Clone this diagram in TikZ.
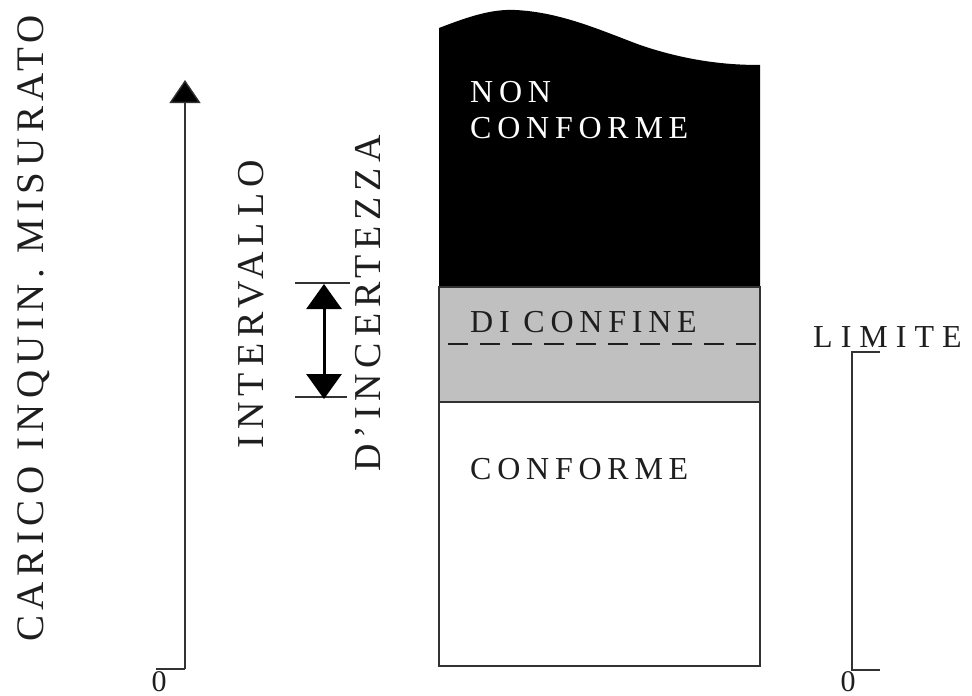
\documentclass[tikz,border=0pt]{standalone}
\usepackage{fontspec}
\setmainfont{Liberation Serif}
\usetikzlibrary{arrows.meta}
\definecolor{boxgray}{RGB}{192,192,192}
\definecolor{ink}{RGB}{30,30,30}
\definecolor{edge}{RGB}{50,50,50}
\newcommand\hfnt{\fontsize{32}{37}\selectfont\addfontfeatures{LetterSpace=18}}
\newcommand\vfnt{\fontsize{39}{44}\selectfont\addfontfeatures{LetterSpace=14.5}}
\newcommand\wfnt{\fontsize{38}{44}\selectfont\addfontfeatures{LetterSpace=16.5}}
\newcommand\dfnt{\fontsize{38}{44}\selectfont\addfontfeatures{LetterSpace=15.5}}
\tikzset{
  lbl/.style={inner sep=0pt, anchor=base west, text=ink},
  vlbl/.style={lbl, rotate=90},
  axisline/.style={line width=1.4pt, draw=edge},
  boxedge/.style={line width=1.4pt, draw=edge},
  zero/.style={inner sep=0pt, anchor=north, text=ink, font=\fontsize{30}{34}\selectfont},
}
\begin{document}
\begin{tikzpicture}[x=1pt,y=-1pt]
\useasboundingbox (0,0) rectangle (972,696);
% ---- main box ----
\fill[black] (439,28) .. controls (470,16) and (492,9) .. (515,10)
  .. controls (560,12) and (600,30) .. (640,45)
  .. controls (690,62) and (730,65) .. (760,65) -- (760,287) -- (439,287) -- cycle;
\draw[boxedge, fill=boxgray] (439,287) rectangle (760,402);
\draw[boxedge, fill=white] (439,402) rectangle (760,666);
\coordinate (dashL) at (448,344);
\coordinate (dashR) at (760,344);
\draw[line width=1.8pt, draw=ink, dash pattern=on 20pt off 12pt] (dashL) -- (dashR);
\node[lbl, text=white] (non) at (470,102) {\hfnt NON};
\node[lbl, text=white] (nonconf) at (470,138) {\hfnt CONFORME};
\node[lbl] (confine) at (470,332) {\hfnt DI CONFINE};
\node[lbl] (conf) at (470,479) {\hfnt CONFORME};
% ---- left axis ----
\coordinate (ax0) at (185,669);
\coordinate (axtop) at (185,80);
\coordinate (axtick) at (156,669);
\draw[axisline, -{Triangle[width=31pt,length=23pt,fill=black]}] (ax0) -- (axtop);
\draw[axisline] (axtick) -- (ax0);
\node[zero] (zeroL) at (159,671) {0};
\node[vlbl] (carico) at (43,642) {\vfnt CARICO INQUIN. MISURATO};
% ---- uncertainty interval ----
\coordinate (uTopL) at (295,283);
\coordinate (uTopR) at (350,283);
\coordinate (uBotL) at (295,397);
\coordinate (uBotR) at (347,397);
\draw[axisline] (uTopL) -- (uTopR);
\draw[axisline] (uBotL) -- (uBotR);
\coordinate (uA) at (324,284);
\coordinate (uB) at (324,399);
\draw[line width=3pt, draw=black, {Triangle[width=35pt,length=25pt]}-{Triangle[width=35pt,length=25pt]}] (uA) -- (uB);
\node[vlbl] (interv) at (263,449) {\wfnt INTERVALLO};
\node[vlbl] (incert) at (380,472) {\dfnt D’INCERTEZZA};
% ---- right axis ----
\coordinate (r0) at (852,670);
\coordinate (rtop) at (852,352);
\coordinate (rtick0) at (880,670);
\coordinate (rticktop) at (880,352);
\draw[axisline] (rtick0) -- (r0) -- (rtop) -- (rticktop);
\node[zero] (zeroR) at (848,671) {0};
\node[lbl] (limite) at (813,347) {\fontsize{32}{37}\selectfont\addfontfeatures{LetterSpace=25}LIMITE};
\end{tikzpicture}
\end{document}
